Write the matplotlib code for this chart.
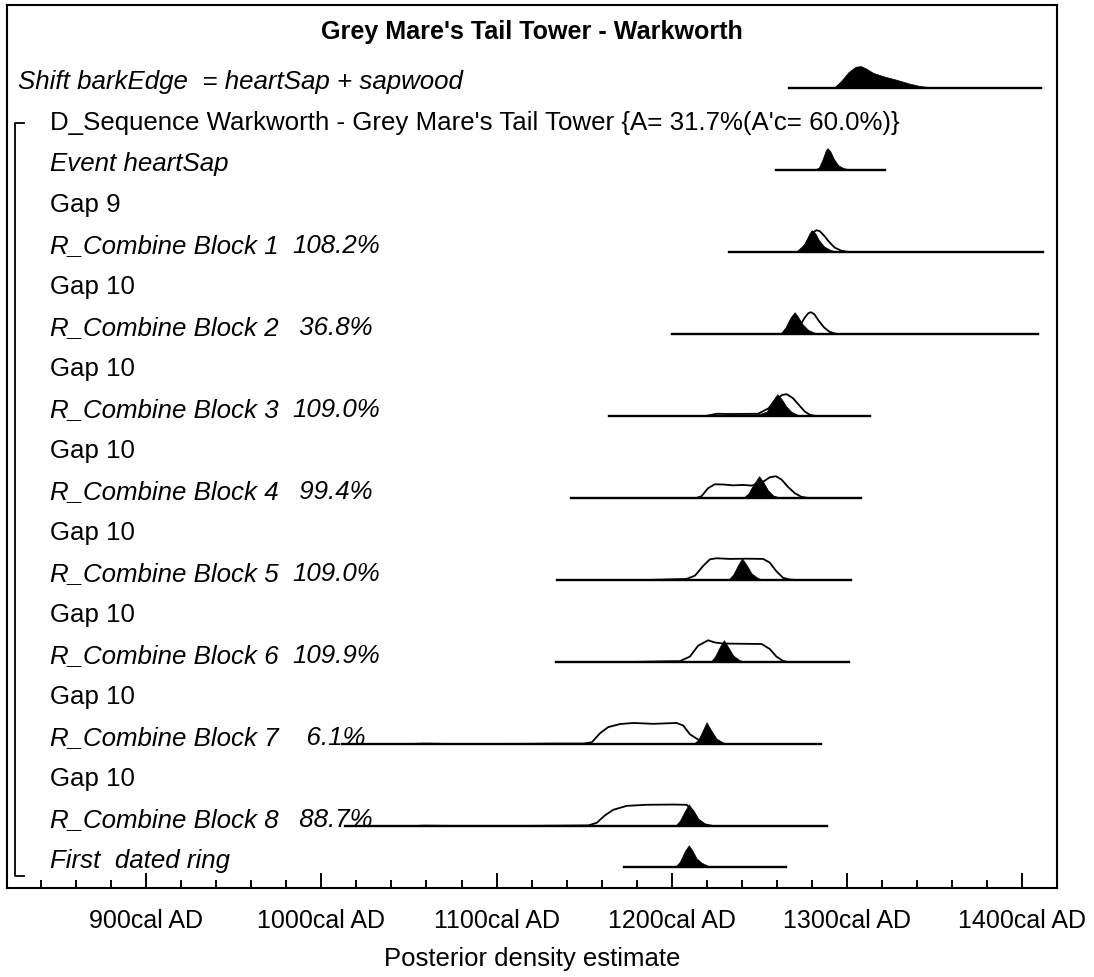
import matplotlib
matplotlib.use("Agg")
import matplotlib.pyplot as plt
from matplotlib.ticker import MultipleLocator, FixedLocator

plt.rcParams['font.family'] = ['Liberation Sans', 'DejaVu Sans']

# rows, top to bottom
row_labels = ["Shift barkEdge  = heartSap + sapwood",
              "D_Sequence Warkworth - Grey Mare's Tail Tower {A= 31.7%(A'c= 60.0%)}",
              "Event heartSap", "Gap 9",
              "R_Combine Block 1", "Gap 10", "R_Combine Block 2", "Gap 10",
              "R_Combine Block 3", "Gap 10", "R_Combine Block 4", "Gap 10",
              "R_Combine Block 5", "Gap 10", "R_Combine Block 6", "Gap 10",
              "R_Combine Block 7", "Gap 10", "R_Combine Block 8",
              "First  dated ring"]
row_italic = [True, False, True, False, True, False, True, False, True, False,
              True, False, True, False, True, False, True, False, True, True]
combine_rows = [4, 6, 8, 10, 12, 14, 16, 18]
agreement = [108.2, 36.8, 109.0, 99.4, 109.0, 109.9, 6.1, 88.7]

x_ticks = [900, 1000, 1100, 1200, 1300, 1400]
x_ticklabels = ["900cal AD", "1000cal AD", "1100cal AD", "1200cal AD",
                "1300cal AD", "1400cal AD"]

# Shift barkEdge
shift_range = [1267, 1411]
shift_post_x = [1289, 1293, 1297, 1301, 1305, 1308, 1311, 1315, 1321, 1328, 1336, 1342, 1348, 1360, 1368]
shift_post_y = [0, 0.03, 0.34, 0.73, 0.97, 1.0, 0.89, 0.69, 0.53, 0.38, 0.19, 0.08, 0.03, 0.01, 0]

# Event heartSap
heart_range = [1259.4, 1322]
heart_post_x = [1281, 1284, 1286, 1288, 1289, 1290.6, 1292.6, 1295, 1298, 1302, 1305]
heart_post_y = [0, 0.1, 0.45, 0.9, 1.0, 0.85, 0.5, 0.22, 0.08, 0.02, 0]

# Block 1
b1_range = [1233, 1412]
b1_post_x = [1269, 1273, 1276, 1278.7, 1280, 1282, 1284, 1287, 1290.8, 1295, 1299,
             1366, 1370, 1374, 1378, 1382]
b1_post_y = [0, 0.05, 0.4, 0.85, 1.0, 0.85, 0.55, 0.25, 0.08, 0.02, 0,
             0, 0.03, 0.05, 0.03, 0]
b1_lik_x = [1272, 1276, 1280, 1282.7, 1284.6, 1287, 1290, 1293, 1297, 1301]
b1_lik_y = [0, 0.3, 0.85, 1.0, 0.95, 0.75, 0.45, 0.2, 0.05, 0]

# Block 2
b2_range = [1200, 1409]
b2_post_x = [1262, 1265, 1267.8, 1270.2, 1272, 1274.7, 1278, 1282, 1287]
b2_post_y = [0, 0.3, 0.75, 1.0, 0.8, 0.45, 0.18, 0.04, 0]
b2_lik_x = [1267, 1270, 1273, 1276, 1278, 1279.5, 1281.5, 1284, 1287, 1290, 1294]
b2_lik_y = [0, 0.1, 0.35, 0.75, 0.95, 1.0, 0.9, 0.6, 0.3, 0.1, 0]

# Block 3
b3_range = [1164, 1313]
b3_post_x = [1219.7, 1223.5, 1233.6, 1249.3, 1254.3, 1257.3, 1260.3, 1263, 1265.3, 1268.2, 1272, 1276]
b3_post_y = [0, 0.05, 0.06, 0.07, 0.2, 0.65, 1.0, 0.75, 0.45, 0.2, 0.05, 0]
b3_lik_x = [1219.7, 1225.6, 1233.6, 1249.3, 1255.3, 1259.3, 1263.2, 1265.7, 1269.2, 1272.7, 1276, 1279, 1282]
b3_lik_y = [0, 0.1, 0.09, 0.1, 0.35, 0.75, 0.97, 1.0, 0.82, 0.5, 0.2, 0.05, 0]

# Block 4
b4_range = [1142.6, 1308]
b4_post_x = [1240.8, 1243.7, 1246.5, 1249.9, 1252.2, 1255, 1257.9, 1261.7, 1264.6]
b4_post_y = [0, 0.2, 0.6, 1.0, 0.75, 0.35, 0.12, 0.02, 0]
b4_lik_x = [1214.2, 1217, 1220.8, 1224.6, 1229.4, 1235.1, 1240.8, 1245.6, 1251.3, 1256,
            1259.5, 1262.7, 1266.5, 1270.3, 1274.1, 1277.9]
b4_lik_y = [0, 0.08, 0.45, 0.63, 0.62, 0.58, 0.6, 0.57, 0.7, 0.95,
            1.0, 0.85, 0.5, 0.22, 0.05, 0]

# Block 5
b5_range = [1134.5, 1302.6]
b5_post_x = [1232.2, 1235.1, 1238, 1240.2, 1242.7, 1245.6, 1249.4, 1253.2]
b5_post_y = [0, 0.25, 0.7, 1.0, 0.7, 0.3, 0.08, 0]
b5_lik_x = [1185.7, 1195.2, 1208.5, 1213.3, 1218, 1221.8, 1225.6, 1233.2, 1242.7, 1252.2,
            1256, 1259.8, 1263.6, 1267.4, 1271.3]
b5_lik_y = [0, 0.02, 0.05, 0.2, 0.65, 0.95, 1.0, 0.97, 0.98, 0.97,
            0.8, 0.4, 0.1, 0.02, 0]

# Block 6
b6_range = [1134, 1301]
b6_post_x = [1222.2, 1224.7, 1227.5, 1229.8, 1232.2, 1235.1, 1238.9, 1242.7]
b6_post_y = [0, 0.25, 0.7, 1.0, 0.7, 0.3, 0.08, 0]
b6_lik_x = [1176.2, 1195.2, 1204.7, 1210.4, 1215.1, 1220.8, 1224.6, 1229.4, 1238.9, 1251.3,
            1256, 1259.8, 1263.6, 1266.5]
b6_lik_y = [0, 0.03, 0.04, 0.25, 0.75, 1.0, 0.9, 0.85, 0.84, 0.83,
            0.6, 0.25, 0.05, 0]

# Block 7
b7_range = [1012, 1285.5]
b7_post_x = [1212.3, 1215.2, 1217.6, 1219.9, 1222.4, 1225.6, 1229.4, 1233.2, 1238.9]
b7_post_y = [0, 0.2, 0.6, 1.0, 0.65, 0.25, 0.07, 0.02, 0]
b7_lik_x = [1050.7, 1058.3, 1067.8, 1081.1, 1119.2, 1130.6, 1149.6, 1154.4, 1159.1, 1163.8,
            1170.5, 1178.1, 1189.5, 1202.8, 1206.6, 1210.4, 1215.2, 1219, 1223.7]
b7_lik_y = [0, 0.02, 0.01, 0, 0.01, 0.02, 0.02, 0.08, 0.5, 0.78,
            0.92, 0.97, 0.93, 0.97, 0.85, 0.45, 0.2, 0.06, 0]

# Block 8
b8_range = [1013.6, 1288.4]
b8_post_x = [1201.9, 1204.7, 1207.6, 1209.8, 1212.3, 1215.2, 1219, 1223.7, 1228.5]
b8_post_y = [0, 0.25, 0.7, 1.0, 0.7, 0.3, 0.08, 0.01, 0]
b8_lik_x = [1052.6, 1058.3, 1071.7, 1119.2, 1138.2, 1152.4, 1157.2, 1162, 1166.7, 1174.3,
            1185.7, 1200.9, 1208.5, 1212.3, 1215.2, 1219, 1223.7]
b8_lik_y = [0, 0.02, 0.01, 0.01, 0.02, 0.03, 0.15, 0.5, 0.75, 0.93,
            0.98, 0.99, 0.98, 0.7, 0.3, 0.08, 0]

# First dated ring
first_range = [1173, 1265.5]
first_post_x = [1201.9, 1204.7, 1207.6, 1209.8, 1211.9, 1214.2, 1217.1, 1220.9, 1225.6]
first_post_y = [0, 0.25, 0.75, 1.0, 0.75, 0.4, 0.2, 0.05, 0]

HSCALE = 0.53

fig = plt.figure(figsize=(10.94, 9.78), dpi=100)
ax = fig.add_axes([7 / 1094, 1 - 889 / 978, 1050 / 1094, 883 / 978])
ax.set_xlim(820.5, 1420)
ax.set_ylim(19.51, -2.02)


def draw_row(r, xr, px, py, lx=None, ly=None):
    if lx is not None:
        ax.plot(lx, [r - h * HSCALE for h in ly], color='black', lw=1.3,
                solid_joinstyle='round', zorder=3)
    ax.fill_between(px, [r] * len(px), [r - h * HSCALE for h in py],
                    color='black', lw=0.5, zorder=4)
    ax.plot(xr, [r, r], color='black', lw=1.7, zorder=5)


draw_row(0, shift_range, shift_post_x, shift_post_y)
draw_row(2, heart_range, heart_post_x, heart_post_y)
draw_row(4, b1_range, b1_post_x, b1_post_y, b1_lik_x, b1_lik_y)
draw_row(6, b2_range, b2_post_x, b2_post_y, b2_lik_x, b2_lik_y)
draw_row(8, b3_range, b3_post_x, b3_post_y, b3_lik_x, b3_lik_y)
draw_row(10, b4_range, b4_post_x, b4_post_y, b4_lik_x, b4_lik_y)
draw_row(12, b5_range, b5_post_x, b5_post_y, b5_lik_x, b5_lik_y)
draw_row(14, b6_range, b6_post_x, b6_post_y, b6_lik_x, b6_lik_y)
draw_row(16, b7_range, b7_post_x, b7_post_y, b7_lik_x, b7_lik_y)
draw_row(18, b8_range, b8_post_x, b8_post_y, b8_lik_x, b8_lik_y)
draw_row(19, first_range, first_post_x, first_post_y)

# labels
for i, lab in enumerate(row_labels):
    x0 = 826.8 if i == 0 else 845.0
    ax.text(x0, i, lab, fontsize=18.6, va='baseline', ha='left',
            style='italic' if row_italic[i] else 'normal', zorder=2)
for r, a in zip(combine_rows, agreement):
    ax.text(983.5, r, "%5.1f%%" % a, fontsize=18.6, va='baseline', ha='left',
            style='italic', zorder=2)

# sequence bracket
ax.plot([830, 825, 825, 830], [0.85, 0.85, 19.22, 19.22], color='black', lw=1.3)

ax.text(0.5, -1.22, "Grey Mare's Tail Tower - Warkworth", fontsize=18.1,
        fontweight='bold', ha='center', va='baseline',
        transform=ax.get_yaxis_transform())

ax.xaxis.set_major_locator(FixedLocator(x_ticks))
ax.set_xticklabels(x_ticklabels, fontsize=18)
ax.xaxis.set_minor_locator(MultipleLocator(20))
ax.tick_params(axis='x', which='major', direction='in', length=11, width=1.4, pad=14.5)
ax.tick_params(axis='x', which='minor', direction='in', length=5.5, width=1.4)
ax.set_yticks([])
for s in ax.spines.values():
    s.set_linewidth(1.5)

fig.text(532.5 / 1094, 1 - 966 / 978, "Posterior density estimate", fontsize=18.5,
         ha='center', va='baseline')

fig.savefig("out.png", dpi=100)
